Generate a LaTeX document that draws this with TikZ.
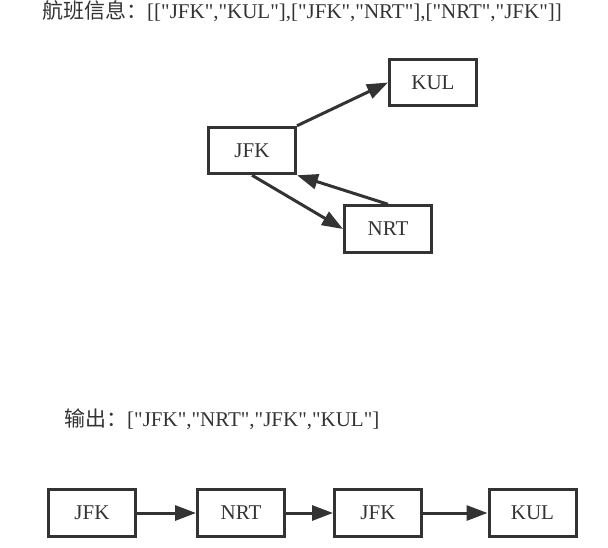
\documentclass[tikz,border=0pt]{standalone}
\usepackage{fontspec}
\setmainfont{Liberation Serif}[Ligatures=TeXOff]
\newfontfamily\cjk{Noto Sans CJK SC}
\usetikzlibrary{arrows.meta}
\definecolor{ink}{HTML}{333333}
\begin{document}
\begin{tikzpicture}[x=1pt,y=-1pt,
  box/.style={draw=ink,line width=3pt,minimum width=87pt,minimum height=46.5pt,inner sep=0pt,
    text=ink,font=\fontsize{21}{25}\selectfont},
  link/.style={draw=ink,line width=3pt,-{Triangle[length=21pt,width=15pt]}},
  caption/.style={anchor=base west,inner sep=0pt,text=ink,font=\fontsize{21}{25}\selectfont}]
\useasboundingbox (0,0) rectangle (608,547);
\node[caption] (t1) at (42,18) {{\cjk 航班信息：}[["JFK","KUL"],["JFK","NRT"],["NRT","JFK"]]};
\node[box] (jfk) at (252,150.5) {JFK};
\node[box] (kul) at (433,82.5) {KUL};
\node[box] (nrt) at (388,229) {NRT};
\draw[link] (jfk.north east) -- (kul.west);
\draw[link] (jfk.south) -- (nrt.west);
\draw[link] (nrt.north) -- (jfk.south east);
\node[caption] (t2) at (64,426) {{\cjk 输出：}["JFK","NRT","JFK","KUL"]};
\node[box] (b1) at (92,513) {JFK};
\node[box] (b2) at (241,513) {NRT};
\node[box] (b3) at (378,513) {JFK};
\node[box] (b4) at (532.5,513) {KUL};
\draw[link] (b1) -- (b2);
\draw[link] (b2) -- (b3);
\draw[link] (b3) -- (b4);
\end{tikzpicture}
\end{document}
